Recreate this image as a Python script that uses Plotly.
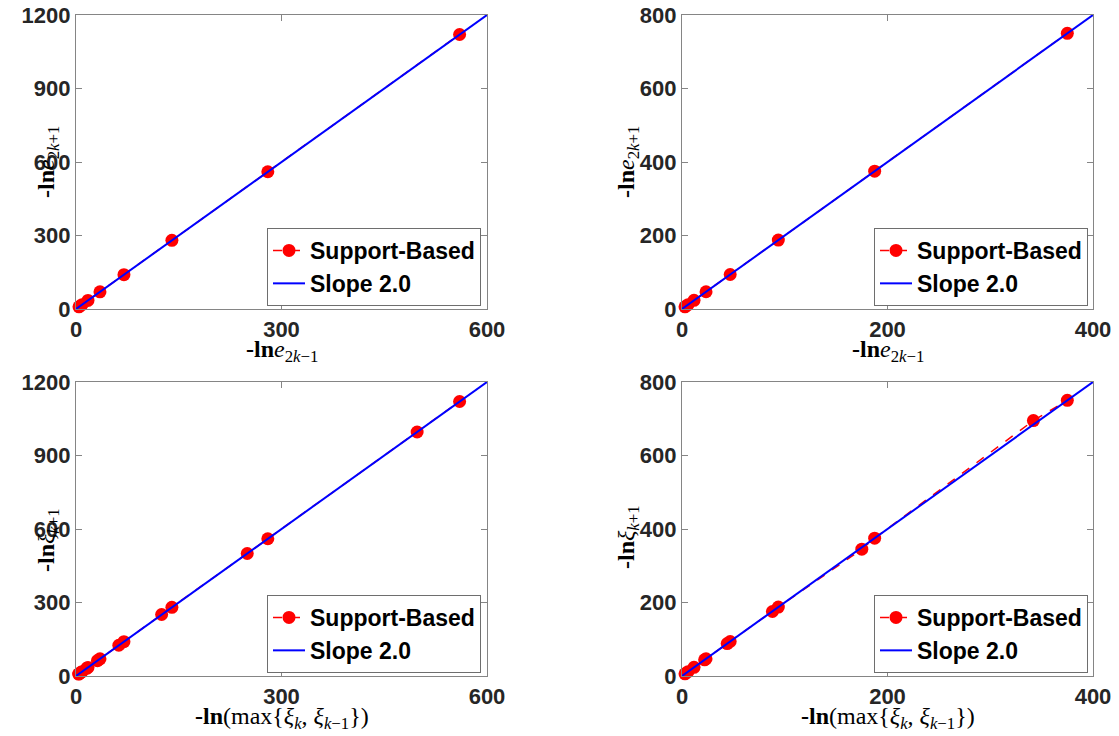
import plotly.graph_objects as go
from plotly.subplots import make_subplots

# ---------------- data ----------------
SLOPE = 2.0

# top-left panel: -ln e_{2k+1} vs -ln e_{2k-1}
tl_x = [4.375, 8.75, 17.5, 35.0, 70.0, 140.0, 280.0, 560.0]
tl_y = [8.9, 17.6, 35.1, 70.2, 140.3, 280.5, 560.2, 1120.4]
tl_line_x = [0, 600]

# top-right panel
tr_x = [2.93, 5.86, 11.7, 23.4, 46.9, 93.75, 187.5, 375.0]
tr_y = [5.9, 11.8, 23.5, 46.9, 93.9, 187.6, 375.1, 750.2]
tr_line_x = [0, 400]

# bottom-left panel: -ln xi_{k+1} vs -ln(max{xi_k, xi_{k-1}})
bl_x = [3.9, 4.4, 7.8, 8.75, 15.6, 17.5, 31.3, 35.0, 62.5, 70.0, 125.0, 140.0, 250.0, 280.0, 498.0, 560.0]
bl_y = [7.9, 8.9, 15.7, 17.6, 31.4, 35.1, 62.6, 70.2, 125.5, 140.3, 251.0, 280.5, 500.0, 560.2, 996.0, 1120.4]
bl_line_x = [0, 600]

# bottom-right panel
br_x = [2.93, 5.86, 11.7, 22.0, 23.4, 44.0, 46.9, 88.0, 93.75, 175.0, 187.5, 342.0, 375.0]
br_y = [5.9, 11.8, 23.5, 44.1, 46.9, 88.2, 93.9, 175.5, 187.6, 345.0, 375.1, 695.0, 750.2]
br_line_x = [0, 400]

tl_xticks = [0, 300, 600]
tl_yticks = [0, 300, 600, 900, 1200]
tr_xticks = [0, 200, 400]
tr_yticks = [0, 200, 400, 600, 800]

LEGEND_DATA = "Support-Based"
LEGEND_SLOPE = "Slope 2.0"

# ---------------- figure ----------------
W, H = 1119, 736
OFF = 0  # page body margin removed by post_script
fig = make_subplots(rows=2, cols=2)

panels = [
    (1, 1, tl_x, tl_y, tl_line_x, "legend"),
    (1, 2, tr_x, tr_y, tr_line_x, "legend2"),
    (2, 1, bl_x, bl_y, bl_line_x, "legend3"),
    (2, 2, br_x, br_y, br_line_x, "legend4"),
]

for r, c, xs, ys, lx, lg in panels:
    fig.add_trace(go.Scatter(
        x=xs, y=ys, mode="lines+markers", name=LEGEND_DATA,
        line=dict(color="#ff0000", width=1.5, dash="dash"),
        marker=dict(color="#ff0000", size=13, line=dict(width=0)),
        cliponaxis=False, legend=lg, showlegend=True,
    ), row=r, col=c)
    fig.add_trace(go.Scatter(
        x=lx, y=[SLOPE * v for v in lx], mode="lines", name=LEGEND_SLOPE,
        line=dict(color="#0000ff", width=2),
        legend=lg, showlegend=True,
    ), row=r, col=c)

tickfont = dict(family="Liberation Sans, Arial, sans-serif", size=22, color="#262626", weight="bold")
axis_common = dict(
    showline=True, linecolor="#858585", linewidth=1.3, mirror="ticks",
    ticks="inside", ticklen=6, tickcolor="#858585", tickwidth=1,
    showgrid=False, zeroline=False, tickfont=tickfont, automargin=False,
    ticklabeloverflow="allow",
)

def px_x(v):
    return (v - OFF) / W

def px_y(v):
    return 1 - (v - OFF) / H

xdom_l = [px_x(76), px_x(487)]
xdom_r = [px_x(682), px_x(1093)]
ydom_t = [px_y(309), px_y(15)]
ydom_b = [px_y(676), px_y(382)]

fig.update_xaxes(axis_common)
fig.update_yaxes(axis_common)

fig.update_layout(
    xaxis=dict(domain=xdom_l, range=[0, 600], tickvals=tl_xticks),
    yaxis=dict(domain=ydom_t, range=[0, 1200], tickvals=tl_yticks),
    xaxis2=dict(domain=xdom_r, range=[0, 400], tickvals=tr_xticks),
    yaxis2=dict(domain=ydom_t, range=[0, 800], tickvals=tr_yticks),
    xaxis3=dict(domain=xdom_l, range=[0, 600], tickvals=tl_xticks),
    yaxis3=dict(domain=ydom_b, range=[0, 1200], tickvals=tl_yticks),
    xaxis4=dict(domain=xdom_r, range=[0, 400], tickvals=tr_xticks),
    yaxis4=dict(domain=ydom_b, range=[0, 800], tickvals=tr_yticks),
)

legfont = dict(family="Liberation Sans, Arial, sans-serif", size=23, color="#000000", weight="bold")
def leg(xr, yb):
    return dict(x=px_x(xr), y=px_y(yb), xanchor="right", yanchor="bottom",
                bgcolor="white", bordercolor="#6e6e6e", borderwidth=1,
                font=legfont, itemwidth=32, tracegroupgap=0)

fig.update_layout(
    legend=leg(481, 306),
    legend2=leg(1088, 306),
    legend3=leg(481, 673),
    legend4=leg(1088, 673),
)

serif = dict(family="Liberation Serif, Times New Roman, serif", size=24, color="#000000")
ylab_top = "<b>-ln</b><i>e</i><sub>2<i>k</i>+1</sub>"
xlab_top = "<b>-ln</b><i>e</i><sub>2<i>k</i>\u22121</sub>"
ylab_bot = "<b>-ln</b><i>\u03be</i><sub><i>k</i>+1</sub>"
xlab_bot = "<b>-ln</b>(max{<i>\u03be</i><sub><i>k</i></sub>, <i>\u03be</i><sub><i>k</i>\u22121</sub>})"

annots = [
    (48, 162, ylab_top, -90),
    (628, 162, ylab_top, -90),
    (48, 540, ylab_bot, -90),
    (628, 537, ylab_bot, -90),
    (282, 351, xlab_top, 0),
    (888, 351, xlab_top, 0),
    (282, 718, xlab_bot, 0),
    (888, 718, xlab_bot, 0),
]
for ax_, ay_, txt, ang in annots:
    fig.add_annotation(x=px_x(ax_), y=px_y(ay_), xref="paper", yref="paper",
                       text=txt, textangle=ang, showarrow=False, font=serif,
                       xanchor="center", yanchor="middle")

fig.update_layout(
    width=W, height=H, margin=dict(l=0, r=0, t=0, b=0),
    paper_bgcolor="white", plot_bgcolor="white",
)

fig.write_html(
    "out.html",
    config={"displayModeBar": False},
    post_script="document.body.style.margin='0';document.body.style.overflow='hidden';",
)
